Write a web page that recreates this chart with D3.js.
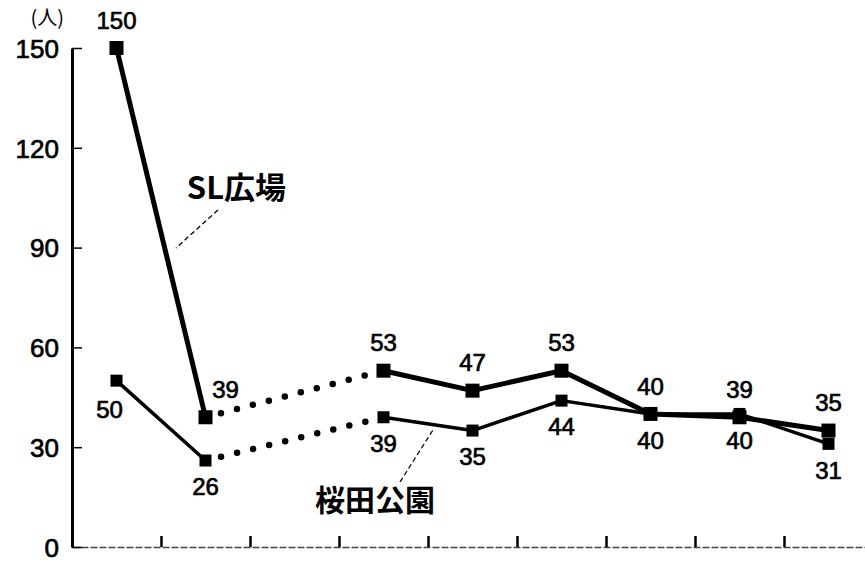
<!DOCTYPE html>
<html lang="ja">
<head>
<meta charset="utf-8">
<title>SL広場・桜田公園</title>
<script src="https://cdnjs.cloudflare.com/ajax/libs/d3/7.8.5/d3.min.js"></script>
<style>
  body { margin: 0; background: #fff; }
  svg text { fill: #000; }
  .num { font-family: "Liberation Sans", Arial, sans-serif; font-size: 24px; stroke: #000; stroke-width: 0.7px; }
  .axis text { font-family: "Liberation Sans", Arial, sans-serif; font-size: 26px; stroke: #000; stroke-width: 0.7px; }
  .name { font-family: "Noto Sans CJK JP", sans-serif; font-weight: bold; }
</style>
</head>
<body>
<div id="chart"></div>
<script>
// nine survey points along the x axis (no labels printed); the third has no data
const categories = ["1", "2", "3", "4", "5", "6", "7", "8", "9"];
const slValues = [150, 39, null, 53, 47, 53, 40, 39, 35];
const sakuradaValues = [50, 26, null, 39, 35, 44, 40, 40, 31];
const yTicks = [0, 30, 60, 90, 120, 150];

const width = 865, height = 563;
const margin = {left: 72, top: 48, bottom: 16};

const svg = d3.select("#chart").append("svg")
    .attr("width", width)
    .attr("height", height);

// category centres, boundaries fall on half steps
const x = d3.scaleLinear()
    .domain([-0.5, categories.length - 0.5])
    .range([margin.left, margin.left + 89 * categories.length]);
const y = d3.scaleLinear()
    .domain([0, 150])
    .range([height - margin.bottom, margin.top]);

// x axis: ticks between categories, pointing up
const xAxis = d3.axisBottom(x)
    .tickValues(d3.range(0.5, categories.length - 1, 1))
    .tickSizeInner(-11)
    .tickSizeOuter(0)
    .tickFormat("");
const gx = svg.append("g")
    .attr("class", "axis x")
    .attr("transform", "translate(0," + y(0) + ")")
    .call(xAxis);
gx.select(".domain").attr("stroke", "#444").attr("stroke-width", 1.4).attr("stroke-dasharray", "7 2");
gx.selectAll(".tick line").attr("stroke", "#000").attr("stroke-width", 2.5);

// y axis: ticks inward
const yAxis = d3.axisLeft(y)
    .tickValues(yTicks)
    .tickSizeInner(-10)
    .tickSizeOuter(0)
    .tickPadding(13);
const gy = svg.append("g")
    .attr("class", "axis y")
    .attr("transform", "translate(" + margin.left + ",0)")
    .call(yAxis);
gy.select(".domain").attr("stroke", "#000").attr("stroke-width", 3);
gy.selectAll(".tick line").attr("stroke", "#000").attr("stroke-width", 1.5);
gy.selectAll(".tick text").attr("dy", "0.36em");

svg.append("text")
    .attr("class", "name")
    .attr("x", margin.left - 8)
    .attr("y", 25)
    .attr("text-anchor", "end")
    .style("font-size", "20px")
    .style("font-weight", "normal")
    .text("(人)");

function drawSeries(values, opt) {
  const pts = values.map((v, i) => ({i: i, v: v}));
  const line = d3.line()
      .defined(d => d.v != null)
      .x(d => x(d.i))
      .y(d => y(d.v));

  svg.append("path")
      .datum(pts)
      .attr("fill", "none")
      .attr("stroke", "#000")
      .attr("stroke-width", opt.lineWidth)
      .attr("stroke-linejoin", "round")
      .attr("d", line);

  // dotted bridge over missing points
  const defined = pts.filter(d => d.v != null);
  const bridges = [];
  for (let k = 1; k < defined.length; k++) {
    if (defined[k].i - defined[k - 1].i > 1) bridges.push([defined[k - 1], defined[k]]);
  }
  svg.selectAll(null)
      .data(bridges)
      .enter()
      .append("path")
      .attr("fill", "none")
      .attr("stroke", "#000")
      .attr("stroke-width", 6.5)
      .attr("stroke-linecap", "round")
      .attr("stroke-dasharray", "0 16.5")
      .attr("stroke-dashoffset", -16)
      .attr("d", d => line(d));

  svg.selectAll(null)
      .data(defined)
      .enter()
      .append("rect")
      .attr("x", d => x(d.i) - opt.marker / 2)
      .attr("y", d => y(d.v) - opt.marker / 2)
      .attr("width", opt.marker)
      .attr("height", opt.marker)
      .attr("fill", "#000");

  svg.selectAll(null)
      .data(defined)
      .enter()
      .append("text")
      .attr("class", "num")
      .attr("text-anchor", "middle")
      .attr("dy", "0.36em")
      .attr("x", d => x(d.i) + opt.dx(d.i))
      .attr("y", d => y(d.v) + opt.dy(d.i))
      .text(d => d.v);
}

drawSeries(slValues, {
  lineWidth: 5,
  marker: 14,
  dx: i => (i === 1 ? 20 : 0),
  dy: i => -28
});
drawSeries(sakuradaValues, {
  lineWidth: 3.5,
  marker: 12,
  dx: i => (i === 0 ? -7 : 0),
  dy: i => (i === 0 ? 29 : 26)
});

// series names with dashed leaders
const names = [
  {text: "SL広場", at: [0.79, 108], size: 31, from: [218, 210], to: [176, 248]},
  {text: "桜田公園", at: [2.23, 14], size: 30, from: [400, 482], to: [433, 430]}
];
names.forEach(n => {
  svg.append("text")
      .attr("class", "name")
      .attr("x", x(n.at[0]))
      .attr("y", y(n.at[1]))
      .attr("dy", "0.36em")
      .style("font-size", n.size + "px")
      .text(n.text);
  svg.append("line")
      .attr("x1", n.from[0]).attr("y1", n.from[1])
      .attr("x2", n.to[0]).attr("y2", n.to[1])
      .attr("stroke", "#000")
      .attr("stroke-width", 1.3)
      .attr("stroke-dasharray", "5 3");
});
</script>
</body>
</html>
